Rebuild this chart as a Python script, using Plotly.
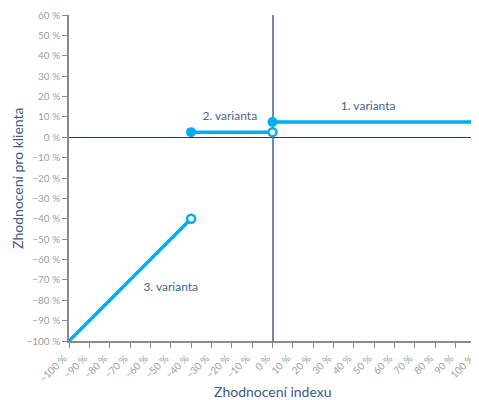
import plotly.graph_objects as go

# Data (percent)
v1_x = [0, 100]
v1_y = [7.5, 7.5]
v2_x = [-40, 0]
v2_y = [2.5, 2.5]
v3_x = [-100, -40]
v3_y = [-100, -40]

filled_x = [0, -40]
filled_y = [7.5, 2.5]
hollow_x = [0, -40]
hollow_y = [2.5, -40]

labels = ["1. varianta", "2. varianta", "3. varianta"]
label_x = [47, -21, -50]
label_y = [15, 10, -74]

x_ticks = list(range(-100, 101, 10))
y_ticks = list(range(-100, 61, 10))


def fmt(v):
    return (("\u2212" if v < 0 else "") + f"{abs(v)} %")


CYAN = "#00AEEF"
TITLE = "#3d5a8a"
fig = go.Figure()
for xs, ys in [(v1_x, v1_y), (v2_x, v2_y), (v3_x, v3_y)]:
    fig.add_trace(go.Scatter(x=xs, y=ys, mode="lines",
                             line=dict(color=CYAN, width=3.5),
                             cliponaxis=False, showlegend=False))
fig.add_trace(go.Scatter(x=filled_x, y=filled_y, mode="markers",
                         marker=dict(color=CYAN, size=10),
                         cliponaxis=False, showlegend=False))
fig.add_trace(go.Scatter(x=hollow_x, y=hollow_y, mode="markers",
                         marker=dict(color="white", size=8,
                                     line=dict(color=CYAN, width=2.5)),
                         cliponaxis=False, showlegend=False))
fig.add_trace(go.Scatter(x=label_x, y=label_y, mode="text", text=labels,
                         textfont=dict(color="#4a6590", size=12, family="Lato"),
                         cliponaxis=False, showlegend=False))

fig.update_layout(
    width=471, height=392,
    margin=dict(l=61, r=3, t=7, b=59),
    paper_bgcolor="white", plot_bgcolor="white",
    font=dict(family="Lato", color="#a0a0a0", size=10),
    xaxis=dict(range=[-100, 100], tickvals=x_ticks, automargin=False,
               ticktext=[fmt(v) for v in x_ticks], tickangle=-45,
               ticklabeloverflow="allow", ticklabelshift=-5,
               ticklabelstandoff=1,
               showgrid=False, zeroline=True, zerolinecolor="#7588a6",
               zerolinewidth=1.5, showline=True, linecolor="#8a8a8a",
               linewidth=1.5, ticks="outside", ticklen=5, tickcolor="#8a8a8a"),
    yaxis=dict(range=[-100, 60], tickvals=y_ticks, automargin=False,
               ticktext=[fmt(v) for v in y_ticks],
               ticklabeloverflow="allow",
               showgrid=False, zeroline=True, zerolinecolor="#1f3d66",
               zerolinewidth=1.2, showline=True, linecolor="#8a8a8a",
               linewidth=1.5, ticks="outside", ticklen=5, tickcolor="#8a8a8a"),
    annotations=[
        dict(text="Zhodnocení indexu", xref="paper", yref="paper",
             x=0.5, y=-0.156, xanchor="center", yanchor="middle",
             showarrow=False, font=dict(size=14, color=TITLE, family="Lato")),
        dict(text="Zhodnocení pro klienta", xref="paper", yref="paper",
             x=-0.128, y=0.5, xanchor="center", yanchor="middle", textangle=-90,
             showarrow=False, font=dict(size=14, color=TITLE, family="Lato")),
    ],
)
fig.write_html("out.html")
